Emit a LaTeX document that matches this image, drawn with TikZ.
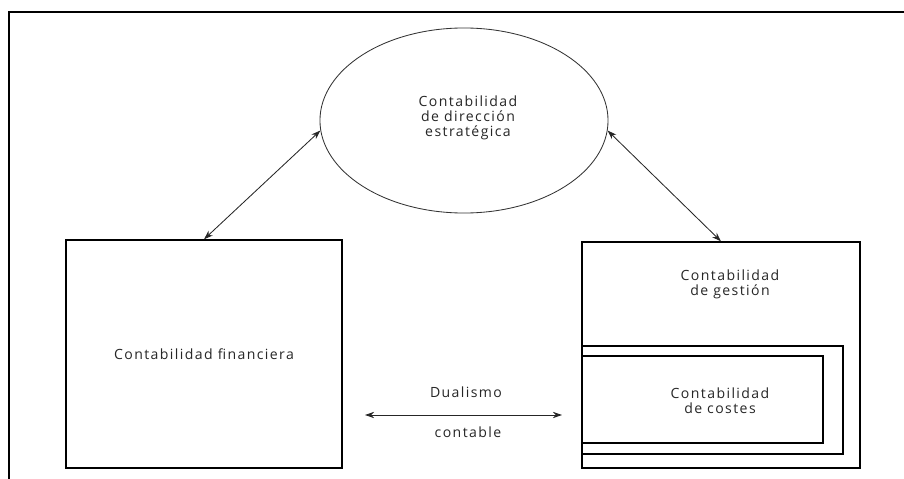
\documentclass[tikz,border=0pt]{standalone}
\usepackage{fontspec}
\setmainfont{Open Sans}[LetterSpace=10]
\usetikzlibrary{shapes,arrows,positioning,calc,arrows.meta}

\begin{document}
\begin{tikzpicture}[x=0.025cm, y=-0.025cm, auto,
    font=\fontsize{10}{10.5}\selectfont,
    box/.style={draw, line width=0.9pt, inner sep=0pt},
    lbl/.style={align=center, text=black!85},
    dbl/.style={{Stealth[length=6.5pt,width=4.5pt]}-{Stealth[length=6.5pt,width=4.5pt]}, line width=0.6pt, black!85}]
    \useasboundingbox (0,0) rectangle (904,479);
    \draw [line width=1pt] (9,479) |- (904,12);

    \node [ellipse, draw, line width=0.6pt, black!80, minimum width=7.2cm, minimum height=4.625cm] (DE) at (464,120.5) {};
    \node [lbl] (DEt) at (468,118) {Contabilidad\\de dirección\\estratégica};

    \node [box, lbl, minimum width=6.9cm, minimum height=5.7cm] (CF) at (204,354) {Contabilidad financiera};
    \node [box, minimum width=6.95cm, minimum height=5.65cm] (CG) at (721,355) {};
    \node [box, minimum width=6.525cm, minimum height=2.7cm] (CG2) at (712.5,400) {};
    \node [box, minimum width=6.025cm, minimum height=2.175cm] (CC) at (702.5,399.5) {};
    \node [lbl] (CGt) at (730,284.5) {Contabilidad\\de gestión};
    \node [lbl] (CCt) at (720,401) {Contabilidad\\de costes};

    \node [lbl] (DU) at (466,392) {Dualismo};
    \node [lbl] (CO) at (468,432) {contable};
    \coordinate (DL) at (365,415);
    \coordinate (DR) at (562,415);

    \draw [dbl] (CF.north) -- (DE.184);
    \draw [dbl] (DE.356) -- (CG.north);
    \draw [dbl] (DL) -- (DR);
\end{tikzpicture}
\end{document}
